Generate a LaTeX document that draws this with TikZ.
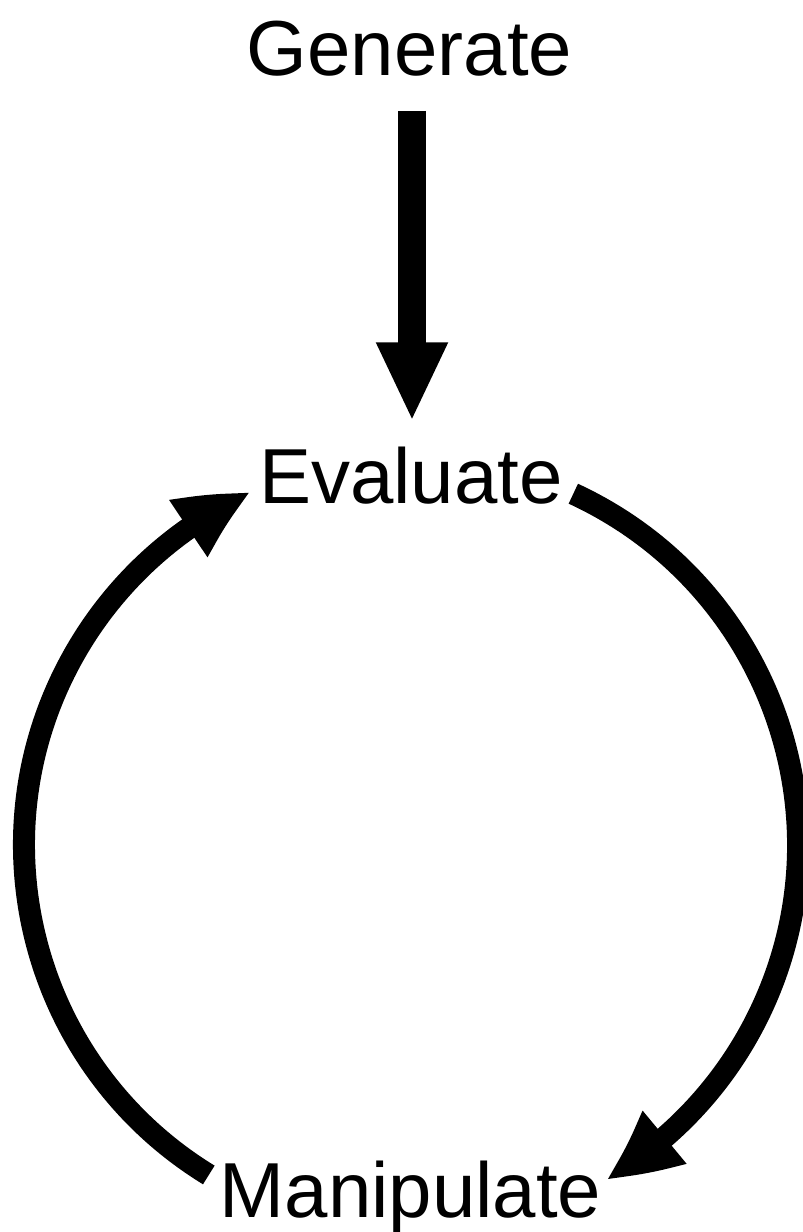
\documentclass[tikz,border=0pt]{standalone}
\usepackage{fontspec}
\setmainfont{Liberation Sans}
\usetikzlibrary{arrows.meta,bending}
\begin{document}
\begin{tikzpicture}[x=1pt,y=1pt,
  label/.style={inner sep=0pt, anchor=base, font=\fontsize{78}{80}\selectfont},
  vertarrow/.style={line width=28pt, -{Triangle[length=79pt,width=66pt]}},
  arcarrow/.style={line width=22pt, -{Triangle[length=73pt,width=63pt,bend]}}]
\useasboundingbox (0,0) rectangle (803,-1232);
\node[label] (gen) at (409.5,-75) {Generate};
\node[label] (eval) at (411,-503) {Evaluate};
\node[label] (man) at (410.5,-1217) {Manipulate};
\coordinate (ctr) at (411,-845);
% Generate -> Evaluate
\draw[vertarrow] ([xshift=2.5pt,yshift=-35pt]gen.south) -- ([xshift=1pt,yshift=25pt]eval.north);
% Evaluate -> Manipulate (right side)
\draw[arcarrow] ([shift={(65.2:387)}]ctr) arc[start angle=65.2, end angle=-59.8, radius=387];
% Manipulate -> Evaluate (left side)
\draw[arcarrow] ([shift={(238.5:387)}]ctr) arc[start angle=238.5, end angle=114.4, radius=387];
\end{tikzpicture}
\end{document}
